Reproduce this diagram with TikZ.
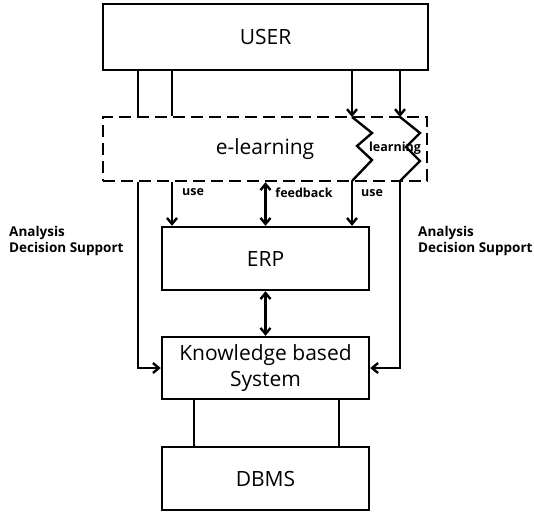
\documentclass[tikz,border=0pt]{standalone}
\usepackage{fontspec}
\setmainfont{Open Sans}
\usetikzlibrary{arrows.meta}
\begin{document}
\begin{tikzpicture}[x=1pt,y=-1pt,line width=2.4pt,
  box/.style={draw, minimum width=207pt, inner sep=0pt, font=\fontsize{21}{26}\selectfont},
  lbl/.style={font=\bfseries\fontsize{12.5}{14}\selectfont, inner sep=0pt},
  side/.style={font=\bfseries\fontsize{13.5}{16.5}\selectfont, align=left, inner sep=0pt, anchor=west},
  tip/.tip={Straight Barb[length=6pt,width=10pt]},
  arr/.style={-tip},
  darr/.style={tip-tip}]
\useasboundingbox (0,0) rectangle (534,511);

% boxes
\node[box, minimum width=325pt, minimum height=66pt] (user) at (265.5,37) {USER};
\node[box, dashed, dash pattern=on 12pt off 6pt, minimum width=324pt, minimum height=64pt] (elearn) at (265,149) {e-learning};
\node[box, minimum height=63pt] (erp) at (265.5,258.5) {ERP};
\node[box, minimum height=62pt, align=center] (kbs) at (265.5,368) {Knowledge based\\System};
\node[box, minimum height=63pt] (dbms) at (265.5,478.5) {DBMS};

% plain links from USER into e-learning
\draw (138,0 |- user.south) -- (138,0 |- elearn.north);
\draw (172,0 |- user.south) -- (172,0 |- elearn.north);

% links leaving e-learning
\draw[arr] (138,0 |- elearn.south) |- (kbs.west);
\draw[arr] (172,0 |- elearn.south) -- (172,0 |- erp.north);
\draw[darr] (265.5,0 |- elearn.south) -- (erp.north);
\draw[darr] (erp.south) -- (kbs.north);

% learning paths with zigzag through e-learning
\coordinate (za) at (352,117);
\coordinate (zb) at (352,181);
\coordinate (zc) at (400,117);
\coordinate (zd) at (400,181);
\draw[arr] (352,0 |- user.south) -- (za);
\draw (za) -- (372,133) -- (357,146) -- (372,160) -- (zb);
\draw[arr] (zb) -- (352,0 |- erp.north);
\draw[arr] (400,0 |- user.south) -- (zc);
\draw (zc) -- (420,133) -- (406,147) -- (420,161) -- (zd);
\draw[arr] (zd) |- (kbs.east);

% KBS to DBMS
\draw (194,0 |- kbs.south) -- (194,0 |- dbms.north);
\draw (339,0 |- kbs.south) -- (339,0 |- dbms.north);

% labels
\node[lbl] (lrn) at (395,148) {learning};
\node[lbl] (use1) at (193,192) {use};
\node[lbl] (fb) at (304,193) {feedback};
\node[lbl] (use2) at (372,193) {use};
\node[side] (ads1) at (8,241) {Analysis\\Decision Support};
\node[side] (ads2) at (417,241) {Analysis\\Decision Support};
\end{tikzpicture}
\end{document}
